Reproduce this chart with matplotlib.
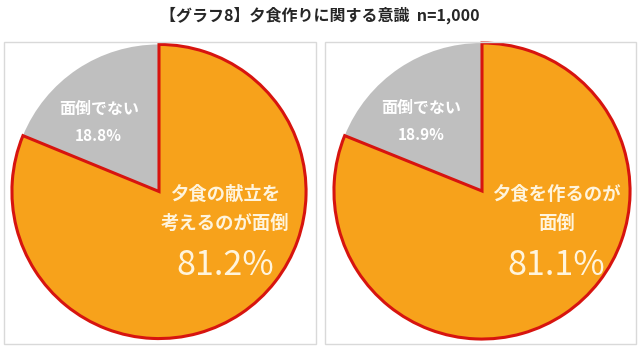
import numpy as np
import matplotlib.pyplot as plt
from matplotlib.patches import Rectangle

plt.rcParams['font.family'] = ['Noto Sans CJK JP', 'DejaVu Sans']

# データ
title = "【グラフ8】夕食作りに関する意識  n=1,000"
labels_main = [["夕食の献立を", "考えるのが面倒"], ["夕食を作るのが", "面倒"]]
label_other = "面倒でない"
pct_main = [81.2, 81.1]
pct_other = [18.8, 18.9]

orange = "#F7A21B"
gray = "#BFBFBF"
red = "#D7140F"
cream = "#FFF4DC"

fig = plt.figure(figsize=(6.4, 3.49), dpi=100)
W, H = 640, 349

def px_axes(cx, cy, r):
    return fig.add_axes([(cx - r) / W, (H - cy - r) / H, 2 * r / W, 2 * r / H])

# 枠
for x0, x1 in [(4, 316), (325, 636)]:
    fig.patches.append(Rectangle((x0 / W, (H - 344) / H), (x1 - x0) / W, 302 / H,
                                 transform=fig.transFigure, fill=False,
                                 edgecolor="#D9D9D9", lw=1.0))

centers = [(159, 191.5, 150), (482, 191, 151)]
main_dx = [0.45, 0.50]

for i, (cx, cy, r) in enumerate(centers):
    ax = px_axes(cx, cy, r)
    wedges, _ = ax.pie([pct_main[i], pct_other[i]], colors=[orange, gray],
                       startangle=90, counterclock=False, radius=1.0)
    wedges[0].set_edgecolor(red)
    wedges[0].set_linewidth(2.2)
    wedges[0].set_zorder(3)
    wedges[1].set_linewidth(0)
    ax.set_xlim(-1.02, 1.02)
    ax.set_ylim(-1.02, 1.02)
    ax.set_aspect('equal')
    ax.axis('off')

    ax.text(-0.41, 0.56, label_other, color="white", fontsize=11.5, fontweight='bold',
            ha='center', va='center', zorder=5)
    ax.text(-0.41, 0.38, f"{pct_other[i]:.1f}%", color="white", fontsize=11,
            fontweight='bold', ha='center', va='center', zorder=5)
    for j, line in enumerate(labels_main[i]):
        ax.text(main_dx[i], -0.02 - 0.2 * j, line, color=cream, fontsize=13.2,
                fontweight='bold', ha='center', va='center', zorder=5)
    ax.text(main_dx[i], -0.50, f"{pct_main[i]:.1f}%", color=cream, fontsize=24.5,
            ha='center', va='center', zorder=5)

fig.text(0.5, 1 - 15 / H, title, ha='center', va='center', fontsize=11.5,
         fontweight='bold', color="#262626")

fig.savefig("out.png", dpi=100, facecolor="white")
